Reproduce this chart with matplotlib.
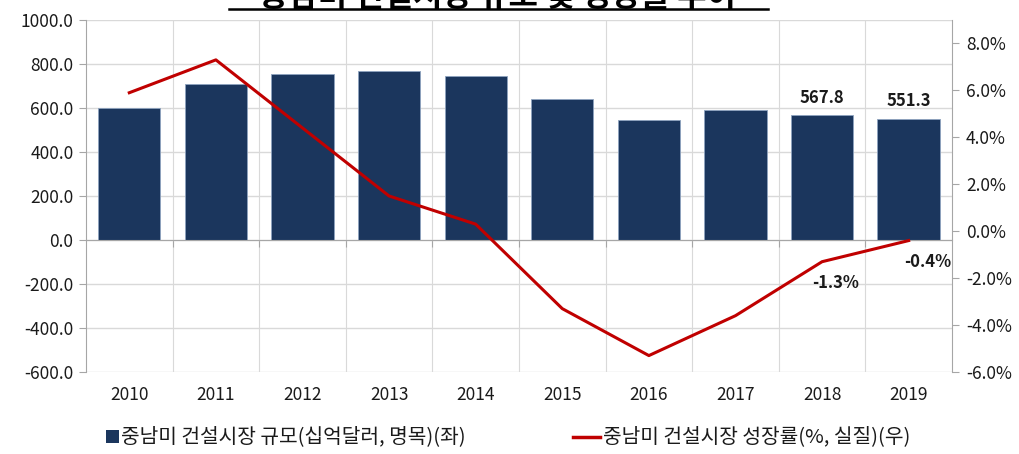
import matplotlib

matplotlib.use("Agg")
import matplotlib.pyplot as plt
import matplotlib.transforms as mtransforms
from matplotlib.lines import Line2D
from matplotlib.patches import Rectangle

plt.rcParams["font.family"] = ["Noto Sans CJK KR", "DejaVu Sans"]

years = ["2010", "2011", "2012", "2013", "2014", "2015", "2016", "2017", "2018", "2019"]
market_size = [600.0, 709.0, 755.0, 768.0, 745.0, 641.0, 545.0, 591.0, 567.8, 551.3]
growth_rate = [5.9, 7.3, 4.4, 1.5, 0.3, -3.3, -5.3, -3.6, -1.3, -0.4]

TITLE = "중남미 건설시장 규모 및 성장률 추이"
BAR_LABEL = "중남미 건설시장 규모(십억달러, 명목)(좌)"
LINE_LABEL = "중남미 건설시장 성장률(%, 실질)(우)"

NAVY = "#1b365d"
RED = "#c00000"
GRID = "#d9d9d9"
AXIS = "#a6a6a6"
TEXT = "#1a1a1a"

fig = plt.figure(figsize=(10.2, 4.54), dpi=100)
ax = fig.add_axes([0.0843, 0.1806, 0.849, 0.7754])
ax2 = ax.twinx()

x = list(range(len(years)))

# Bars (left axis)
ax.bar(x, market_size, width=0.72, color=NAVY, edgecolor="#8ea3bf",
       linewidth=0.6, zorder=3)
ax.set_ylim(-600, 1000)
ax.set_xlim(-0.5, len(years) - 0.5)
ax.set_yticks(range(-600, 1001, 200))
ax.set_yticklabels([f"{v:.1f}" for v in range(-600, 1001, 200)])
ax.yaxis.grid(True, color=GRID, linewidth=1.0, zorder=0)
ax.set_axisbelow(True)

# vertical grid at category boundaries
for b in [i + 0.5 for i in x[:-1]]:
    ax.axvline(b, color=GRID, linewidth=0.8, zorder=0)

# category axis sits at zero, labels at the bottom
ax.spines["bottom"].set_position(("data", 0))
ax.spines["bottom"].set_color(AXIS)
ax.spines["bottom"].set_zorder(4)
ax.set_xticks([i + 0.5 for i in x[:-1]])
ax.set_xticklabels([])
ax.tick_params(axis="x", direction="out", length=5, color=AXIS)
trans = mtransforms.blended_transform_factory(ax.transData, ax.transAxes)
for i, yr in zip(x, years):
    ax.text(i, -0.065, yr, transform=trans, ha="center", va="center",
            fontsize=12.5, color=TEXT)

for side in ["top", "right"]:
    ax.spines[side].set_visible(False)
ax.spines["left"].set_color(AXIS)
ax.tick_params(axis="y", direction="out", length=5, color=AXIS,
               labelsize=12.5, labelcolor=TEXT, pad=4)

# Line (right axis)
ax2.plot(x, growth_rate, color=RED, linewidth=2.2, zorder=5)
ax2.set_ylim(-6, 9)
ax2.set_yticks(range(-6, 9, 2))
ax2.set_yticklabels([f"{v:.1f}%" for v in range(-6, 9, 2)])
for side in ["top", "left", "bottom"]:
    ax2.spines[side].set_visible(False)
ax2.spines["right"].set_color(AXIS)
ax2.tick_params(axis="y", direction="out", length=5, color=AXIS,
                labelsize=12.5, labelcolor=TEXT, pad=5)

# Data labels for the last two years
for i, dx in zip(x[-2:], [10, 14]):
    ax.annotate(f"{market_size[i]:.1f}", (i, market_size[i]),
                xytext=(0, 6), textcoords="offset points", ha="center",
                va="bottom", fontsize=12, fontweight="bold", color=TEXT,
                zorder=6)
    ax2.annotate(f"{growth_rate[i]:.1f}%", (i, growth_rate[i]),
                 xytext=(dx, -9), textcoords="offset points", ha="center",
                 va="top", fontsize=12, fontweight="bold", color=TEXT,
                 zorder=6)

# Legend
fig.patches.append(Rectangle((106 / 1020, 1 - 443 / 454), 13 / 1020, 13 / 454,
                             transform=fig.transFigure, facecolor=NAVY,
                             edgecolor="none"))
fig.text(121 / 1020, 1 - 437 / 454, BAR_LABEL, ha="left", va="center",
         fontsize=14.6, color=TEXT)
fig.lines.append(Line2D([573 / 1020, 600 / 1020], [1 - 437 / 454] * 2,
                        transform=fig.transFigure, color=RED, linewidth=2.5))
fig.text(603 / 1020, 1 - 437 / 454, LINE_LABEL, ha="left", va="center",
         fontsize=14.6, color=TEXT)

# Title (top is clipped in the reference)
fig.text(0.488, 1 - 6 / 454, TITLE, ha="center", va="baseline",
         fontsize=23, fontweight="bold", color="#000000")
fig.lines.append(Line2D([229 / 1020, 768 / 1020], [1 - 9 / 454] * 2,
                        transform=fig.transFigure, color="#000000",
                        linewidth=1.8))

fig.savefig("out.png", dpi=100)
